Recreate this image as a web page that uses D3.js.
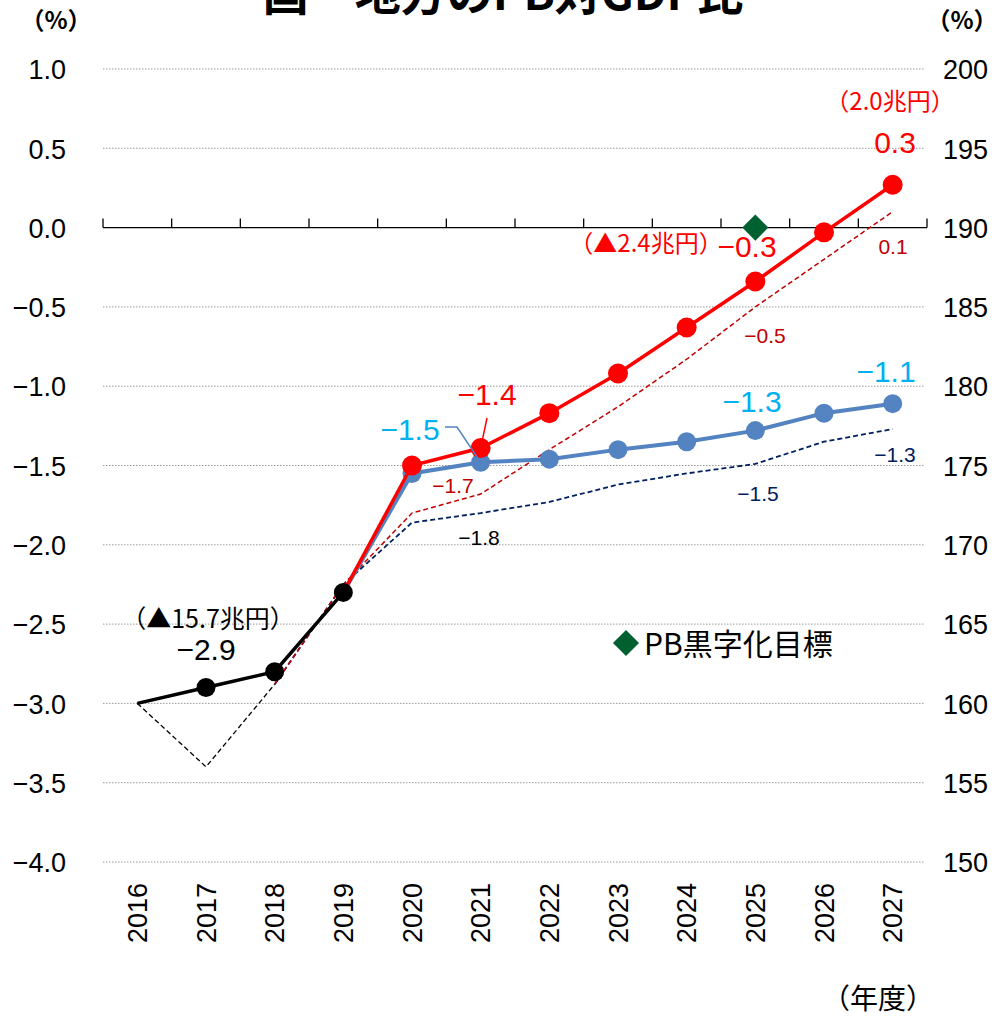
<!DOCTYPE html>
<html><head><meta charset="utf-8">
<script src="https://cdn.jsdelivr.net/npm/d3@7"></script>
<style>body{margin:0;background:#fff}svg{display:block}</style>
</head><body>
<svg id="c" width="998" height="1020"></svg>
<script>
// ---- data ----
const years = [2016,2017,2018,2019,2020,2021,2022,2023,2024,2025,2026,2027];
const leftTicks = [1.0,0.5,0.0,-0.5,-1.0,-1.5,-2.0,-2.5,-3.0,-3.5,-4.0];
const rightTicks = [200,195,190,185,180,175,170,165,160,155,150];

const actualYears = [2016,2017,2018,2019];
const actualValues = [-3.0,-2.9,-2.8,-2.3];

const growthYears = [2019,2020,2021,2022,2023,2024,2025,2026,2027];
const growthValues = [-2.3,-1.50,-1.39,-1.17,-0.92,-0.63,-0.34,-0.03,0.27];
const baselineValues = [-2.3,-1.55,-1.48,-1.46,-1.40,-1.35,-1.28,-1.17,-1.11];

const prevYears = [2018,2019,2020,2021,2022,2023,2024,2025,2026,2027];
const prevGrowthValues = [-2.88,-2.25,-1.80,-1.68,-1.40,-1.13,-0.83,-0.50,-0.20,0.10];
const prevBaselineValues = [-2.88,-2.25,-1.86,-1.80,-1.73,-1.62,-1.55,-1.49,-1.35,-1.27];

const prevActualYears = [2016,2017,2018];
const prevActualValues = [-3.0,-3.4,-2.88];

const targetYear = 2025, targetValue = 0.0;

// ---- setup ----
const svg = d3.select("#c");
const numFont = "'Liberation Sans', Arial, sans-serif";
const cjkFont = "'Noto Sans CJK JP', sans-serif";
const x = d3.scalePoint().domain(years).range([103, 927]).padding(0.5);
const y = d3.scaleLinear().domain([-4, 1]).range([862, 69]);
const yR = d3.scaleLinear().domain([150, 200]).range([862, 69]);

// title
svg.append("text").attr("x", 503).attr("y", 10).attr("text-anchor","middle")
  .attr("font-family", cjkFont).attr("font-weight","bold").attr("font-size", 46)
  .text("国・地方のPB対GDP比");

// gridlines
svg.append("g").selectAll("line").data(leftTicks.filter(d => d !== 0)).join("line")
  .attr("x1", 103).attr("x2", 925).attr("y1", d => y(d)).attr("y2", d => y(d))
  .attr("stroke", "#9a9a9a").attr("stroke-width", 1).attr("stroke-dasharray", "1.5,1.5");

// zero axis with ticks
const step = x.step();
svg.append("line").attr("x1", 103).attr("x2", 927).attr("y1", y(0)).attr("y2", y(0))
  .attr("stroke", "#000").attr("stroke-width", 1.3);
svg.append("g").selectAll("line").data(d3.range(years.length + 1)).join("line")
  .attr("x1", i => 103 + i * step).attr("x2", i => 103 + i * step)
  .attr("y1", y(0) - 9).attr("y2", y(0))
  .attr("stroke", "#000").attr("stroke-width", 1.3);

// left axis labels
const yAxisL = d3.axisLeft(y).tickValues(leftTicks).tickFormat(d3.format(".1f")).tickSize(0).tickPadding(0);
const gL = svg.append("g").attr("transform", "translate(66,0)").call(yAxisL);
gL.select(".domain").remove();
gL.selectAll("text").attr("font-family", numFont).attr("font-size", 27).attr("fill", "#000")
  .attr("dy", "0.36em").text(d => d3.format(".1f")(d).replace("-", "−"));

// right axis labels
const yAxisR = d3.axisRight(yR).tickValues(rightTicks).tickSize(0).tickPadding(0);
const gR = svg.append("g").attr("transform", "translate(943,0)").call(yAxisR);
gR.select(".domain").remove();
gR.selectAll("text").attr("font-family", numFont).attr("font-size", 27).attr("fill", "#000").attr("dy","0.36em");

// x labels
svg.append("g").selectAll("text").data(years).join("text")
  .attr("transform", d => `translate(${x(d)},883) rotate(-90)`)
  .attr("text-anchor", "end").attr("dy", "0.36em")
  .attr("font-family", numFont).attr("font-size", 27).attr("fill", "#000")
  .text(d => d);

// unit labels
svg.append("text").attr("x", 56).attr("y", 29).attr("text-anchor","middle")
  .attr("font-family", cjkFont).attr("font-weight","bold").attr("font-size", 24).text("（%）");
svg.append("text").attr("x", 962).attr("y", 29).attr("text-anchor","middle")
  .attr("font-family", cjkFont).attr("font-weight","bold").attr("font-size", 24).text("（%）");
svg.append("text").attr("x", 878).attr("y", 1009).attr("text-anchor","middle")
  .attr("font-family", cjkFont).attr("font-size", 28).text("（年度）");

// lines
const line = d3.line().x(d => x(d[0])).y(d => y(d[1]));
const zip = (a, b) => a.map((v, i) => [v, b[i]]);

svg.append("path").datum(zip(prevActualYears, prevActualValues)).attr("d", line)
  .attr("fill","none").attr("stroke","#000").attr("stroke-width",1.3).attr("stroke-dasharray","5,3");
svg.append("path").datum(zip(prevYears, prevBaselineValues)).attr("d", line)
  .attr("fill","none").attr("stroke","#002060").attr("stroke-width",1.8).attr("stroke-dasharray","5,3");
svg.append("path").datum(zip(prevYears, prevGrowthValues)).attr("d", line)
  .attr("fill","none").attr("stroke","#c00000").attr("stroke-width",1.5).attr("stroke-dasharray","5,3");

const base = zip(growthYears, baselineValues);
svg.append("path").datum(base).attr("d", line)
  .attr("fill","none").attr("stroke","#5383c0").attr("stroke-width",4);
svg.append("g").selectAll("circle").data(base.slice(1)).join("circle")
  .attr("cx", d => x(d[0])).attr("cy", d => y(d[1])).attr("r", 9.5).attr("fill","#5383c0");

const grow = zip(growthYears, growthValues);
svg.append("path").datum(grow).attr("d", line)
  .attr("fill","none").attr("stroke","#ff0000").attr("stroke-width",3.5);
svg.append("g").selectAll("circle").data(grow.slice(1)).join("circle")
  .attr("cx", d => x(d[0])).attr("cy", d => y(d[1])).attr("r", 10).attr("fill","#ff0000");

const act = zip(actualYears, actualValues);
svg.append("path").datum(act).attr("d", line)
  .attr("fill","none").attr("stroke","#000").attr("stroke-width",3.5);
svg.append("g").selectAll("circle").data(act.slice(1)).join("circle")
  .attr("cx", d => x(d[0])).attr("cy", d => y(d[1])).attr("r", 9.5).attr("fill","#000");

// target diamond
const diamond = d3.symbol().type(d3.symbolSquare).size(340);
svg.append("path").attr("d", diamond())
  .attr("transform", `translate(${x(targetYear)},${y(targetValue)}) rotate(45)`).attr("fill","#006030");

// legend
svg.append("path").attr("d", diamond())
  .attr("transform", "translate(626,643) rotate(45)").attr("fill","#006030");
svg.append("text").attr("x", 644).attr("y", 655).attr("font-family", cjkFont).attr("font-size", 30)
  .text("PB黒字化目標");

// leader lines
const lead = d3.line();
svg.append("path").attr("d", lead([[445,427],[457,427],[x(2021), y(baselineValues[2])]]))
  .attr("fill","none").attr("stroke","#5383c0").attr("stroke-width",1.5);
svg.append("path").attr("d", lead([[487,418],[x(2021), y(growthValues[2])]]))
  .attr("fill","none").attr("stroke","#ff0000").attr("stroke-width",1.5);

// data labels
const labels = [
  {t:"（▲15.7兆円）", x:208, y:628, s:25, c:"#000", f:cjkFont},
  {t:"−2.9", x:206, y:660, s:30, c:"#000", f:numFont},
  {t:"−1.5", x:410, y:440, s:30, c:"#00b0f0", f:numFont},
  {t:"−1.4", x:487, y:405, s:30, c:"#ff0000", f:numFont},
  {t:"−1.7", x:453, y:493, s:21, c:"#c00000", f:numFont},
  {t:"−1.8", x:479, y:545, s:21, c:"#000", f:numFont},
  {t:"−1.3", x:752, y:412, s:30, c:"#00b0f0", f:numFont},
  {t:"−1.1", x:886, y:382, s:30, c:"#00b0f0", f:numFont},
  {t:"−1.5", x:758, y:501, s:21, c:"#002060", f:numFont},
  {t:"−1.3", x:895, y:462, s:21, c:"#002060", f:numFont},
  {t:"−0.5", x:765, y:343, s:21, c:"#c00000", f:numFont},
  {t:"0.1", x:893, y:254, s:21, c:"#c00000", f:numFont},
  {t:"0.3", x:895, y:153, s:30, c:"#ff0000", f:numFont},
  {t:"（2.0兆円）", x:890, y:110, s:24, c:"#ff0000", f:cjkFont},
  {t:"（▲2.4兆円）", x:646, y:252, s:24, c:"#ff0000", f:cjkFont},
  {t:"−0.3", x:747, y:257, s:30, c:"#ff0000", f:numFont}
];
svg.append("g").selectAll("text").data(labels).join("text")
  .attr("x", d => d.x).attr("y", d => d.y).attr("text-anchor","middle")
  .attr("font-family", d => d.f).attr("font-size", d => d.s).attr("fill", d => d.c)
  .text(d => d.t);
</script>
</body></html>
